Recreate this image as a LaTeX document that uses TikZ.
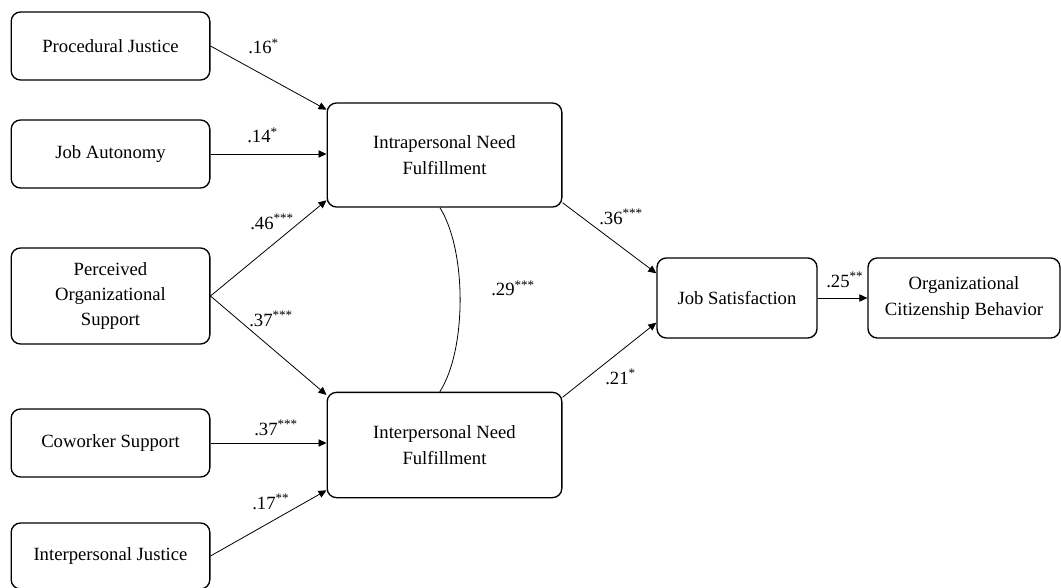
\documentclass[tikz,border=0pt]{standalone}
\usepackage{fontspec}
\setmainfont{Liberation Serif}
\usetikzlibrary{arrows.meta}

\tikzset{
  var/.style={draw, rounded corners=7pt, line width=1pt, align=center, inner sep=0pt,
              font=\fontsize{14}{19}\selectfont},
  path/.style={line width=0.6pt, -{Triangle[length=6pt,width=5.5pt]}},
  coef/.style={anchor=base west, inner sep=0pt, font=\fontsize{14}{19}\selectfont}
}

\begin{document}
\begin{tikzpicture}[x=0.75pt, y=-0.75pt]
\useasboundingbox (0,0) rectangle (1061,588);

% Predictors
\node[var, minimum width=149pt, minimum height=51pt] (pj) at (110.5,46) {Procedural Justice};
\node[var, minimum width=149pt, minimum height=51pt] (ja) at (110.5,154) {Job Autonomy};
\node[var, minimum width=149pt, minimum height=72pt] (pos) at (110.5,296) {Perceived\\Organizational\\Support};
\node[var, minimum width=149pt, minimum height=51pt] (cs) at (110.5,443) {Coworker Support};
\node[var, minimum width=149pt, minimum height=49.5pt] (ij) at (110.5,556) {Interpersonal Justice};

% Mediators
\node[var, minimum width=176pt, minimum height=78pt] (intra) at (444.5,155) {Intrapersonal Need\\Fulfillment};
\node[var, minimum width=176pt, minimum height=79pt] (inter) at (444.5,445) {Interpersonal Need\\Fulfillment};

% Outcomes
\node[var, minimum width=120pt, minimum height=60pt] (js) at (737,298) {Job Satisfaction};
\node[var, minimum width=144pt, minimum height=60pt] (ocb) at (964,298) {Organizational\\Citizenship Behavior};

% Paths
\draw[path] (pj.east) -- (intra.159);
\draw[path] (ja.east) -- (ja.east -| intra.west);
\draw[path] (pos.east) -- (intra.201);
\draw[path] (pos.east) -- (inter.157);
\draw[path] (cs.east) -- (cs.east -| inter.west);
\draw[path] (ij.east) -- (inter.201);
\draw[path] (intra.-22) -- (js.163);
\draw[path] (inter.22) -- (js.197);
\draw[path] (js.east) -- (ocb.west);
\draw[line width=0.6pt] (intra.265) .. controls +(27,43) and +(27,-42) .. (inter.95);

% Coefficients
\node[coef] (c1) at (248,54) {.16\textsuperscript{*}};
\node[coef] (c2) at (247,143) {.14\textsuperscript{*}};
\node[coef] (c3) at (250,229) {.46\textsuperscript{***}};
\node[coef] (c4) at (249,326) {.37\textsuperscript{***}};
\node[coef] (c5) at (254,435) {.37\textsuperscript{***}};
\node[coef] (c6) at (252,509) {.17\textsuperscript{**}};
\node[coef] (c7) at (599,224) {.36\textsuperscript{***}};
\node[coef] (c8) at (491,296) {.29\textsuperscript{***}};
\node[coef] (c9) at (605,384) {.21\textsuperscript{*}};
\node[coef] (c10) at (826,287) {.25\textsuperscript{**}};
\end{tikzpicture}
\end{document}
